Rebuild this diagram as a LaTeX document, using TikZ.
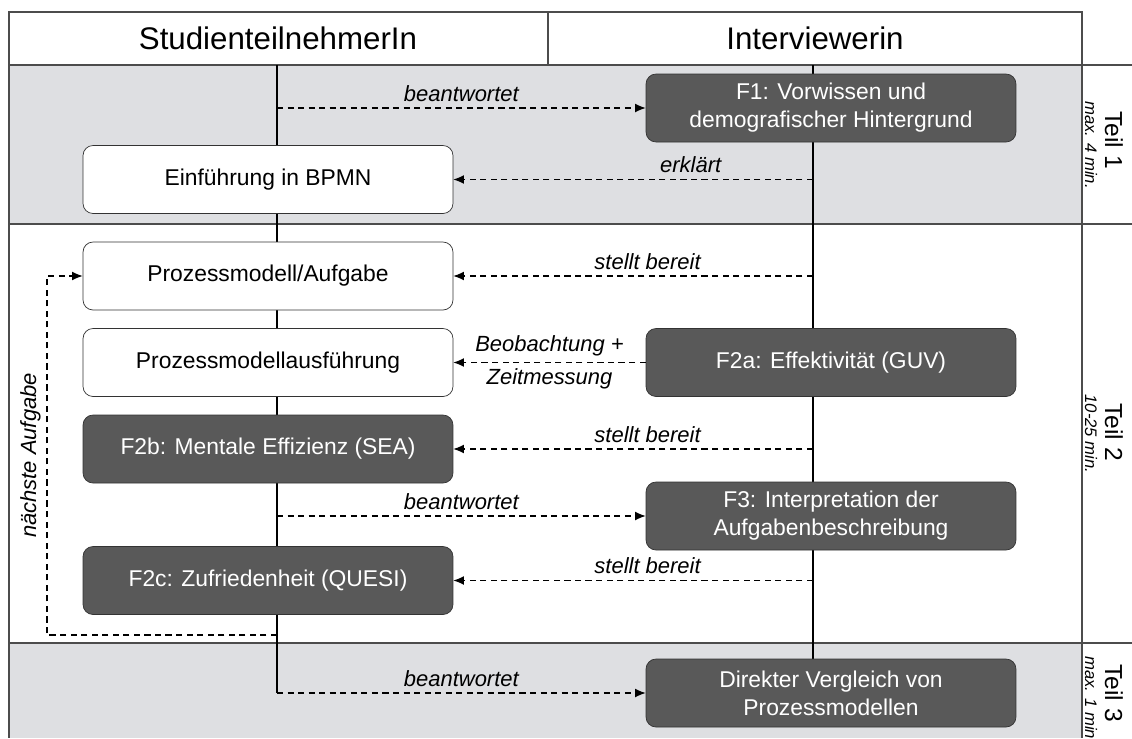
\documentclass[tikz,border=0pt]{standalone}
\usepackage{fontspec}
\setmainfont{Liberation Sans}
\usetikzlibrary{positioning,arrows.meta}
\definecolor{bandgray}{HTML}{DEDFE2}
\definecolor{boxgray}{HTML}{595959}

\begin{document}
\begin{tikzpicture}[x=0.02cm,y=-0.02cm,
  frame/.style={draw=black!70,line width=0.7pt},
  box/.style={draw=black!80,rounded corners=0.2cm,minimum width=7.4cm,
    minimum height=1.36cm,align=center,font=\fontsize{13}{16}\selectfont},
  light/.style={box,fill=white},
  dark/.style={box,fill=boxgray,text=white},
  life/.style={line width=1.1pt},
  msg/.style={dash pattern=on 3.5pt off 2.5pt,line width=0.6pt,
    -{Latex[length=6pt,width=5pt]}},
  lbl/.style={font=\fontsize{12.5}{15}\selectfont\itshape},
  teil/.style={rotate=-90,font=\fontsize{14}{17}\selectfont},
  dauer/.style={rotate=-90,font=\fontsize{9.5}{11}\selectfont\itshape}]
  \useasboundingbox (0,0) rectangle (1132,738);

  % bands and frame
  \fill[bandgray] (9,65) rectangle (1082,224);
  \fill[bandgray] (9,643) rectangle (1082,738);
  \draw[frame] (9,12) rectangle (1082,65);
  \draw[frame] (548,12) -- (548,65);
  \draw[frame] (9,65) -- (9,738);
  \draw[frame] (1082,65) -- (1082,738);
  \draw[frame] (1082,65) -- (1132,65);
  \draw[frame] (9,224) -- (1132,224);
  \draw[frame] (9,643) -- (1132,643);

  \node[font=\fontsize{17.8}{21}\selectfont] (stud) at (278,38) {StudienteilnehmerIn};
  \node[font=\fontsize{17.8}{21}\selectfont] (intv) at (815,38) {Interviewerin};

  % lifelines
  \coordinate (sTop) at (277,65);
  \coordinate (sEnd) at (277,693);
  \coordinate (iTop) at (813,65);
  \coordinate (iEnd) at (813,660);
  \draw[life] (sTop) -- (sEnd);
  \draw[life] (iTop) -- (iEnd);

  % Teil 1
  \node[dark] (f1) at (831,108) {F1: Vorwissen und\\demografischer Hintergrund};
  \node[light] (bpmn) at (268,179.5) {Einführung in BPMN};

  % Teil 2
  \node[light] (task) at (268,276) {Prozessmodell/Aufgabe};
  \node[light] (exec) at (268,362.5) {Prozessmodellausführung};
  \node[dark] (f2a) at (831,362.5) {F2a: Effektivität (GUV)};
  \node[dark] (f2b) at (268,449) {F2b: Mentale Effizienz (SEA)};
  \node[dark] (f3) at (831,516) {F3: Interpretation der\\Aufgabenbeschreibung};
  \node[dark] (f2c) at (268,580.5) {F2c: Zufriedenheit (QUESI)};

  % Teil 3
  \node[dark] (vgl) at (831,693) {Direkter Vergleich von\\Prozessmodellen};

  \draw[msg] (f1.west -| sTop) -- node[lbl,above] {beantwortet} (f1.west);
  \draw[msg] (bpmn.east -| iTop) -- node[lbl,above,pos=0.34] {erklärt} (bpmn.east);
  \draw[msg] (task.east -| iTop) -- node[lbl,above,pos=0.46] {stellt bereit} (task.east);
  \draw[msg] (f2a.west) -- node[lbl,above] {Beobachtung +}
    node[lbl,below] {Zeitmessung} (exec.east);
  \draw[msg] (f2b.east -| iTop) -- node[lbl,above,pos=0.46] {stellt bereit} (f2b.east);
  \draw[msg] (f3.west -| sTop) -- node[lbl,above] {beantwortet} (f3.west);
  \draw[msg] (f2c.east -| iTop) -- node[lbl,above,pos=0.46] {stellt bereit} (f2c.east);
  \draw[msg] (vgl.west -| sTop) -- node[lbl,above] {beantwortet} (vgl.west);

  % loop
  \coordinate (loopS) at (277,635);
  \coordinate (loopC) at (47,635);
  \draw[msg] (loopS) -- (loopC) |- node[lbl,rotate=90,above,pos=0.25] {nächste Aufgabe} (task.west);

  % phases
  \node[teil] (t1) at (1114,140) {Teil 1};
  \node[dauer] (d1) at (1091,145) {max. 4 min.};
  \node[teil] (t2) at (1114,432) {Teil 2};
  \node[dauer] (d2) at (1091,434) {10-25 min.};
  \node[teil] (t3) at (1114,693) {Teil 3};
  \node[dauer] (d3) at (1091,700) {max. 1 min.};
\end{tikzpicture}
\end{document}
